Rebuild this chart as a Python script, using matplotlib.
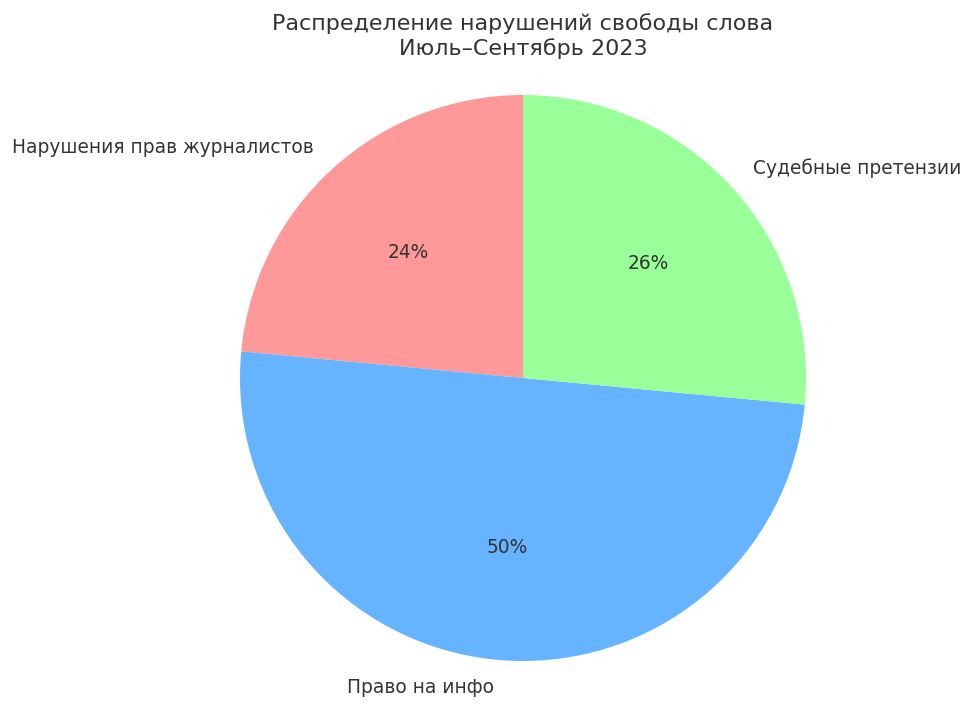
import matplotlib.pyplot as plt

labels = ['Нарушения прав журналистов', 'Право на инфо', 'Судебные претензии']
values = [47, 100, 53]
colors = ['#ff9999', '#66b3ff', '#99ff99']

plt.rcParams['text.color'] = '#333333'

fig = plt.figure(figsize=(9.74, 7.11), dpi=100)
ax = fig.add_axes([0, 0, 1, 1])

wedges, texts, autotexts = ax.pie(values, labels=labels, colors=colors, autopct='%1.0f%%',
                                  startangle=90, textprops={'fontsize': 13.4})
for t in autotexts:
    t.set_color('#333333')

# place the pie like in the original (center 523,378 px, radius 283 px)
r = 283
ax.set_xlim(-523 / r, (974 - 523) / r)
ax.set_ylim(-(711 - 378) / r, 378 / r)
ax.set_aspect('auto')
ax.axis('off')

fig.text(523 / 974, 1 - 13 / 711, 'Распределение нарушений свободы слова\nИюль–Сентябрь 2023',
         ha='center', va='top', fontsize=16, color='#333333', linespacing=1.25)

fig.savefig('out.png', dpi=100)
